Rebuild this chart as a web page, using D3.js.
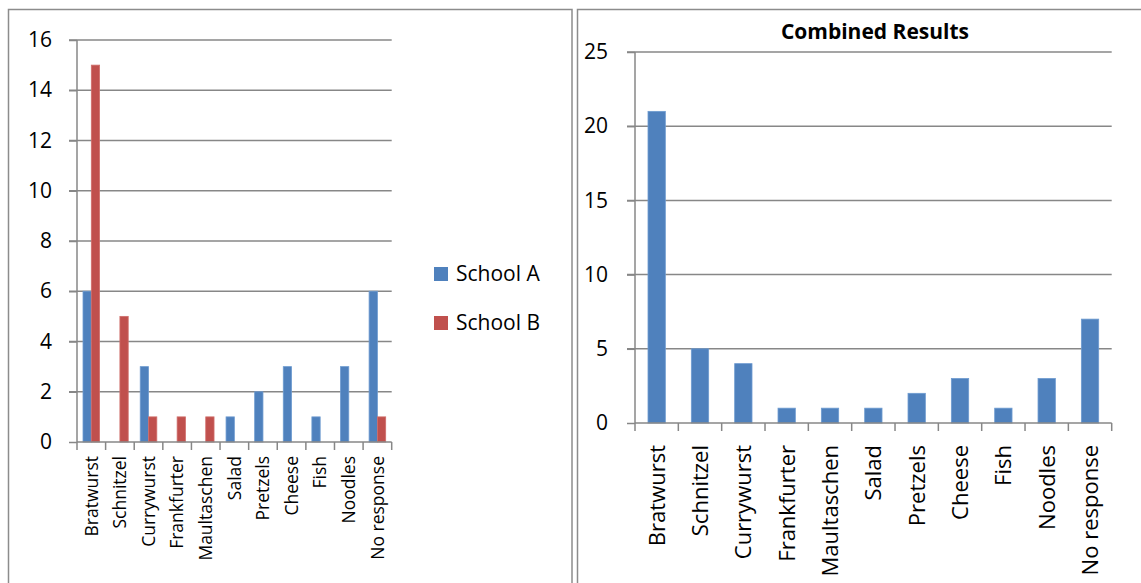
<!DOCTYPE html>
<html>
<head>
<meta charset="utf-8">
<script src="https://cdn.jsdelivr.net/npm/d3@7"></script>
<style>
  html, body { margin: 0; padding: 0; background: #fff; }
  svg { display: block; font-family: "Open Sans", "Liberation Sans", sans-serif; }
</style>
</head>
<body>
<svg id="chart" width="1141" height="583"></svg>
<script>
// Survey data: favourite food, by school and combined
const categories = ["Bratwurst", "Schnitzel", "Currywurst", "Frankfurter", "Maultaschen",
                    "Salad", "Pretzels", "Cheese", "Fish", "Noodles", "No response"];
const schoolA = [6, 0, 3, 0, 0, 1, 2, 3, 1, 3, 6];
const schoolB = [15, 5, 1, 1, 1, 0, 0, 0, 0, 0, 1];
const combined = [21, 5, 4, 1, 1, 1, 2, 3, 1, 3, 7];
const seriesNames = ["School A", "School B"];
const leftTicks = [0, 2, 4, 6, 8, 10, 12, 14, 16];
const rightTicks = [0, 5, 10, 15, 20, 25];
const combinedTitle = "Combined Results";

const colors = ["#4F81BD", "#C0504D"];
const strokes = ["#6E9BD0", "#D06E6B"];
const gridColor = "#878787";

const svg = d3.select("#chart");

// Panel frames
svg.append("rect").attr("x", 8.5).attr("y", 9.5).attr("width", 563.5).attr("height", 600)
  .attr("fill", "none").attr("stroke", "#8c8c8c").attr("stroke-width", 1.5);
svg.append("rect").attr("x", 577.5).attr("y", 9.5).attr("width", 600).attr("height", 600)
  .attr("fill", "none").attr("stroke", "#8c8c8c").attr("stroke-width", 1.5);

function drawPanel(opts) {
  const g = svg.append("g");
  const x = d3.scaleBand().domain(categories).range([opts.x0, opts.x1]).padding(0);
  const y = d3.scaleLinear().domain(opts.domain).range([opts.y0, opts.yTop]);
  const bw = x.bandwidth();

  // Horizontal gridlines (extend left as tick marks)
  g.append("g").selectAll("line").data(opts.ticks.filter(t => t !== 0)).join("line")
    .attr("x1", opts.x0 - 8).attr("x2", opts.x1)
    .attr("y1", d => y(d)).attr("y2", d => y(d))
    .attr("stroke", gridColor).attr("stroke-width", 1.5);

  // Y tick labels via axis
  const ya = g.append("g").attr("transform", `translate(${opts.x0},0)`)
    .call(d3.axisLeft(y).tickValues(opts.ticks).tickSize(8).tickPadding(opts.yPad).tickFormat(d3.format("d")));
  ya.select(".domain").remove();
  ya.selectAll("line").attr("stroke", gridColor).attr("stroke-width", 1.5);
  ya.selectAll("text").attr("font-size", opts.yFont).attr("fill", "#000")
    .attr("font-family", "'Open Sans', sans-serif");

  // Bars
  const nSeries = opts.series.length;
  const barW = bw * opts.barFrac;
  opts.series.forEach((vals, si) => {
    g.append("g").selectAll("rect").data(vals).join("rect")
      .attr("x", (d, i) => x(categories[i]) + bw / 2 - (nSeries * barW) / 2 + si * barW)
      .attr("y", d => y(d))
      .attr("width", barW)
      .attr("height", d => y(0) - y(d))
      .attr("fill", colors[si])
      .attr("stroke", d => d > 0 ? strokes[si] : "none")
      .attr("stroke-width", 0.8);
  });

  // Y axis line
  g.append("line").attr("x1", opts.x0).attr("x2", opts.x0)
    .attr("y1", y(opts.domain[1])).attr("y2", y(0))
    .attr("stroke", gridColor).attr("stroke-width", 1.5);

  // X axis line with boundary ticks
  const xa = g.append("g").attr("transform", `translate(0,${y(0)})`);
  xa.append("line").attr("x1", opts.x0).attr("x2", opts.x1)
    .attr("stroke", gridColor).attr("stroke-width", 1.5);
  const bounds = categories.map(c => x(c)).concat([opts.x1]);
  xa.selectAll("line.tk").data(bounds).join("line").attr("class", "tk")
    .attr("x1", d => d).attr("x2", d => d).attr("y1", 0).attr("y2", 8)
    .attr("stroke", gridColor).attr("stroke-width", 1.5);

  // Rotated category labels
  xa.selectAll("text").data(categories).join("text")
    .attr("transform", d => `translate(${x(d) + bw / 2},${opts.labelGap}) rotate(-90)`)
    .attr("text-anchor", "end")
    .attr("dy", "0.36em")
    .attr("font-size", opts.xFont)
    .attr("fill", "#000")
    .text(d => d);

  return { x, y };
}

// Left: both schools
drawPanel({
  x0: 77, x1: 391.7, y0: 442, yTop: 40, domain: [0, 16], ticks: leftTicks,
  series: [schoolA, schoolB], barFrac: 0.29, yFont: 21, yPad: 17, xFont: 17.5, labelGap: 14
});

// Legend
const legend = svg.append("g");
seriesNames.forEach((name, i) => {
  legend.append("rect").attr("x", 434).attr("y", 267 + i * 49).attr("width", 14).attr("height", 14)
    .attr("fill", colors[i]);
  legend.append("text").attr("x", 456).attr("y", 281 + i * 49)
    .attr("font-size", 21).attr("fill", "#000").text(name);
});

// Right: combined
drawPanel({
  x0: 635, x1: 1111.7, y0: 423, yTop: 52, domain: [0, 25], ticks: rightTicks,
  series: [combined], barFrac: 0.4, yFont: 21, yPad: 19, xFont: 22, labelGap: 22
});

svg.append("text").attr("x", 875).attr("y", 39).attr("text-anchor", "middle")
  .attr("font-size", 21).attr("font-weight", "bold").attr("fill", "#000")
  .text(combinedTitle);
</script>
</body>
</html>
